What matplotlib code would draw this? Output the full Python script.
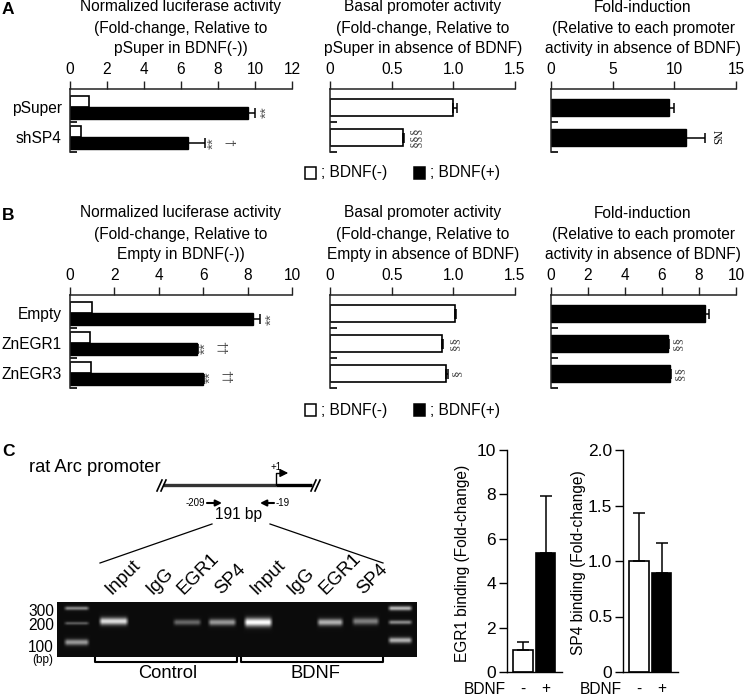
#!/usr/bin/python3
import numpy as np
import matplotlib
matplotlib.use("Agg")
import matplotlib.pyplot as plt
from matplotlib.patches import Rectangle

plt.rcParams['font.family'] = ['Liberation Sans', 'DejaVu Sans']
W, H = 745, 696
FS = 11.2
BIG = 13.2

# panel A
a_cats = ["pSuper", "shSP4"]
a1_off = [1.0, 0.6]
a1_on = [9.6, 6.4]
a1_on_err = [0.4, 0.9]
a2_off = [1.0, 0.59]
a2_off_err = [0.03, 0.01]
a3_on = [9.6, 10.95]
a3_on_err = [0.4, 1.5]

# panel B
b_cats = ["Empty", "ZnEGR1", "ZnEGR3"]
b1_off = [1.0, 0.9, 0.95]
b1_on = [8.25, 5.7, 6.0]
b1_on_err = [0.3, 0.05, 0.02]
b2_off = [1.01, 0.91, 0.94]
b2_off_err = [0.01, 0.005, 0.02]
b3_on = [8.3, 6.3, 6.45]
b3_on_err = [0.25, 0.06, 0.02]

# panel C charts
egr1_vals = [1.0, 5.35]
egr1_err = [0.35, 2.6]
sp4_vals = [1.0, 0.89]
sp4_err = [0.43, 0.27]

# gel, in picture pixels: band left, right, centre height, brightness, thickness
ladder_bands = [(63, 90, 608, 0.5, 1.8), (63, 90, 623, 0.32, 1.5), (63, 90, 642, 0.55, 3.0),
                (387, 413, 608, 0.68, 2.2), (387, 413, 622, 0.5, 2.0), (387, 413, 640, 0.65, 2.8)]
sample_bands = [(98, 129, 621, 0.82, 3.6), (172, 202, 622, 0.36, 2.8), (207, 237, 622, 0.55, 3.2),
                (243, 273, 622, 0.95, 4.2), (316, 344, 622, 0.65, 3.4), (351, 380, 621, 0.45, 3.4)]
lane_names = ["Input", "IgG", "EGR1", "SP4", "Input", "IgG", "EGR1", "SP4"]
lane_x = [114, 155, 186, 224, 259, 296, 328, 366]

fig = plt.figure(figsize=(W / 100, H / 100), dpi=100)
pix = fig.add_axes([0, 0, 1, 1])
pix.set_xlim(0, W)
pix.set_ylim(H, 0)
pix.axis("off")


def box(x0, y0, x1, y1):
    ax = fig.add_axes([x0 / W, 1 - y1 / H, (x1 - x0) / W, (y1 - y0) / H])
    ax.patch.set_alpha(0)
    return ax


# horizontal bars with the value axis on top
def hpanel(x0, x1, top, bottom, cats, xmax, ticks, ticklabels, off=None, on=None,
           off_err=None, on_err=None):
    ax = box(x0, top, x1, bottom)
    n = len(cats)
    both = off is not None and on is not None
    ax.set_xlim(0, xmax)
    ax.set_ylim(n, -0.1)
    for i in range(n):
        if off is not None:
            y = i + 0.32 if both else i + 0.52
            h = 0.38 if both else 0.58
            ax.barh(y, off[i], h, color="white", edgecolor="black", linewidth=1.2)
            if off_err is not None:
                ax.errorbar(off[i], y, xerr=[[0], [off_err[i]]], color="black",
                            elinewidth=1.1, capsize=3.5, capthick=1.1)
        if on is not None:
            y = i + 0.7 if both else i + 0.52
            h = 0.38 if both else 0.58
            ax.barh(y, on[i], h, color="black", edgecolor="black", linewidth=1)
            ax.errorbar(on[i], y, xerr=[[0], [on_err[i]]], color="black",
                        elinewidth=1.1, capsize=3.5, capthick=1.1)
    for s in ["right", "bottom"]:
        ax.spines[s].set_visible(False)
    for s in ["left", "top"]:
        ax.spines[s].set_linewidth(1.1)
        ax.spines[s].set_color("#222222")
    ax.xaxis.tick_top()
    ax.set_xticks(ticks)
    ax.set_xticklabels(ticklabels, fontsize=FS)
    ax.tick_params(axis="x", length=5.8, width=1.0, pad=3, color="#222222")
    ax.set_yticks(np.arange(1, n + 1))
    ax.set_yticklabels([])
    ax.tick_params(axis="y", which="major", direction="in", length=5, width=1.2)
    ax.set_yticks(np.arange(n) + 0.5, minor=True)
    if x0 < 100:
        ax.set_yticklabels(cats, minor=True, fontsize=FS)
    ax.tick_params(axis="y", which="minor", length=0, pad=6)
    return ax


hpanel(70, 292, 89, 152, a_cats, 12, [0, 2, 4, 6, 8, 10, 12], [0, 2, 4, 6, 8, 10, 12],
       off=a1_off, on=a1_on, on_err=a1_on_err)
hpanel(330, 515, 89, 152, a_cats, 1.5, [0, 0.5, 1, 1.5], ["0", "0.5", "1.0", "1.5"],
       off=a2_off, off_err=a2_off_err)
hpanel(551, 736, 89, 152, a_cats, 15, [0, 5, 10, 15], [0, 5, 10, 15],
       on=a3_on, on_err=a3_on_err)
hpanel(70, 292, 295, 388, b_cats, 10, [0, 2, 4, 6, 8, 10], [0, 2, 4, 6, 8, 10],
       off=b1_off, on=b1_on, on_err=b1_on_err)
hpanel(330, 515, 295, 388, b_cats, 1.5, [0, 0.5, 1, 1.5], ["0", "0.5", "1.0", "1.5"],
       off=b2_off, off_err=b2_off_err)
hpanel(551, 736, 295, 388, b_cats, 10, [0, 2, 4, 6, 8, 10], [0, 2, 4, 6, 8, 10],
       on=b3_on, on_err=b3_on_err)

# titles over the panels
titles = [
    (181, 7, ["Normalized luciferase activity", "(Fold-change, Relative to", "pSuper in BDNF(-))"]),
    (423, 7, ["Basal promoter activity", "(Fold-change, Relative to", "pSuper in absence of BDNF)"]),
    (643, 7, ["Fold-induction", "(Relative to each promoter", "activity in absence of BDNF)"]),
    (181, 213, ["Normalized luciferase activity", "(Fold-change, Relative to", "Empty in BDNF(-))"]),
    (423, 213, ["Basal promoter activity", "(Fold-change, Relative to", "Empty in absence of BDNF)"]),
    (643, 213, ["Fold-induction", "(Relative to each promoter", "activity in absence of BDNF)"]),
]
for x, y, lines in titles:
    for i, line in enumerate(lines):
        pix.text(x, y + 21 * i, line, ha="center", va="center", fontsize=FS)

for lab, y in [("A", 10), ("B", 215), ("C", 452)]:
    pix.text(2, y, lab, ha="left", va="center", fontsize=12.5, fontweight="bold")

# legends
for y in [173, 410]:
    pix.add_patch(Rectangle((305, y - 6), 11, 12, fc="white", ec="black", lw=1.1))
    pix.add_patch(Rectangle((414, y - 6), 11, 12, fc="black", ec="black", lw=1.1))
    pix.text(321, y, "; BDNF(-)", va="center", fontsize=FS)
    pix.text(430, y, "; BDNF(+)", va="center", fontsize=FS)

# significance marks, rotated as in the figure
stars = [(267, 112), (214, 143), (272, 319), (206, 348), (211, 377)]
daggers = [(229, 142, "†"), (221, 348, "††"), (226, 377, "††")]
sections = [(416, 137, "§§§", 10), (455, 343, "§§", 9.5), (457, 373, "§", 9.5),
            (678, 343, "§§", 9.5), (680, 373, "§§", 9.5)]
for x, y in stars:
    pix.text(x, y, "**", ha="center", va="center", rotation=90, fontsize=11, color="#555555")
for x, y, s in daggers:
    pix.text(x, y, s, ha="center", va="center", rotation=-90, fontsize=9, color="#444444")
for x, y, s, fs in sections:
    pix.text(x, y, s, ha="center", va="center", rotation=90, fontsize=fs, color="#444444",
             family="Liberation Serif")
pix.text(716, 137, "NS", ha="center", va="center", rotation=-90, fontsize=8.5,
         family="Liberation Serif")

# promoter schematic
pix.text(29, 467, "rat Arc promoter", va="center", fontsize=BIG)
pix.plot([163, 276], [485, 485], color="#333333", lw=2.4, solid_capstyle="butt")
pix.plot([276, 312], [485, 485], color="black", lw=2.4, solid_capstyle="butt")
for x in [157, 161, 311, 315]:
    pix.plot([x, x + 5], [491, 480], color="black", lw=1.2)
pix.plot([276, 276, 283], [485, 473, 473], color="black", lw=1)
pix.annotate("", xy=(291, 473), xytext=(281, 473),
             arrowprops=dict(arrowstyle="-|>", color="black", lw=1, mutation_scale=12))
pix.text(276, 467, "+1", ha="center", va="center", fontsize=7)
pix.text(205, 503, "-209", ha="right", va="center", fontsize=7)
pix.text(276, 503, "-19", ha="left", va="center", fontsize=7)
pix.annotate("", xy=(222, 503), xytext=(207, 503),
             arrowprops=dict(arrowstyle="-|>", color="black", lw=1.5, mutation_scale=9,
                             shrinkA=0, shrinkB=0))
pix.annotate("", xy=(260, 503), xytext=(274, 503),
             arrowprops=dict(arrowstyle="-|>", color="black", lw=1.5, mutation_scale=9,
                             shrinkA=0, shrinkB=0))
pix.text(239, 515, "191 bp", ha="center", va="center", fontsize=FS)
pix.plot([100, 212], [563, 524], color="black", lw=0.9)
pix.plot([270, 383], [524, 563], color="black", lw=0.9)

# gel picture built from the band lists
gx0, gx1, gy0, gy1 = 57, 417, 602, 657
xx, yy = np.meshgrid(np.arange(gx0, gx1, 0.5), np.arange(gy0, gy1, 0.5))
gel = np.full(xx.shape, 0.05)
for x0, x1, yc, amp, thick in ladder_bands + sample_bands:
    across = np.clip((xx - x0) / 4, 0, 1) * np.clip((x1 - xx) / 4, 0, 1)
    gel += amp * across * np.exp(-((yy - yc) / thick) ** 2)
pix.imshow(np.clip(gel, 0, 1), cmap="gray", vmin=0, vmax=1, extent=(gx0, gx1, gy1, gy0),
           aspect="auto", interpolation="bilinear")
pix.set_xlim(0, W)
pix.set_ylim(H, 0)
for name, x in zip(lane_names, lane_x):
    pix.text(x, 598, name, rotation=45, rotation_mode="anchor", ha="left", va="bottom",
             fontsize=13.5)
for s, y in [("300", 611), ("200", 625), ("100", 647)]:
    pix.text(54, y, s, ha="right", va="center", fontsize=FS)
pix.text(43, 660, "(bp)", ha="center", va="center", fontsize=8.5)
pix.plot([95, 95, 237, 237], [658, 662, 662, 658], color="black", lw=1.5)
pix.plot([241, 241, 383, 383], [658, 662, 662, 658], color="black", lw=1.5)
pix.text(168, 673, "Control", ha="center", va="center", fontsize=BIG)
pix.text(315, 673, "BDNF", ha="center", va="center", fontsize=BIG)


# vertical bar charts of panel C
def vpanel(x0, x1, vals, errs, ymax, ticks, ticklabels, ylabel):
    ax = box(x0, 450, x1, 672)
    ax.set_xlim(-16 / 22.5, (x1 - x0 - 16) / 22.5)
    ax.set_ylim(0, ymax)
    ax.bar([0, 1], vals, 0.87, color=["white", "black"], edgecolor="black", linewidth=1.2)
    ax.errorbar([0, 1], vals, yerr=[[0, 0], errs], fmt="none", ecolor="black",
                elinewidth=1.1, capsize=4, capthick=1.1)
    for s in ["right", "top"]:
        ax.spines[s].set_visible(False)
    for s in ["left", "bottom"]:
        ax.spines[s].set_linewidth(1.0)
    ax.set_xticks([])
    ax.set_yticks(ticks)
    ax.set_yticklabels(ticklabels, fontsize=12.5)
    ax.tick_params(axis="y", length=5.8, width=1.0, pad=2)
    pix.text(x0 - 44, 563, ylabel, rotation=90, ha="center", va="center", fontsize=FS)
    pix.text(x0 - 22, 689, "BDNF", ha="center", va="center", fontsize=FS)
    pix.text(x0 + 16, 689, "-", ha="center", va="center", fontsize=FS)
    pix.text(x0 + 39, 689, "+", ha="center", va="center", fontsize=FS)


vpanel(507, 562, egr1_vals, egr1_err, 10, [0, 2, 4, 6, 8, 10], [0, 2, 4, 6, 8, 10],
       "EGR1 binding (Fold-change)")
vpanel(623, 678, sp4_vals, sp4_err, 2.0, [0, 0.5, 1, 1.5, 2], ["0", "0.5", "1.0", "1.5", "2.0"],
       "SP4 binding (Fold-change)")

fig.savefig("out.png", dpi=100)
